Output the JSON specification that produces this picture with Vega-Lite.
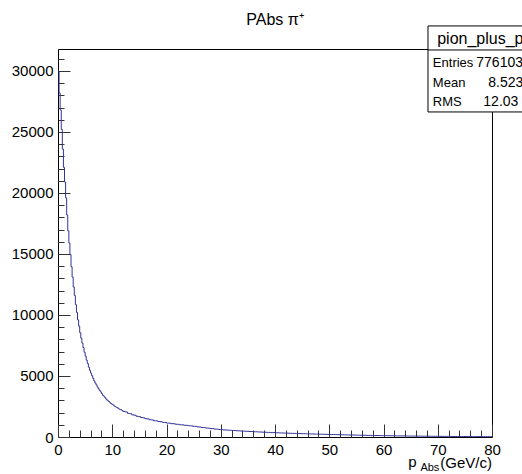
{
  "$schema": "https://vega.github.io/schema/vega-lite/v6.json",
  "width": 434,
  "height": 388,
  "autosize": {"type": "none"},
  "padding": {"left": 58, "top": 49, "right": 30, "bottom": 37},
  "background": "white",
  "config": {"view": {"stroke": "black", "strokeWidth": 1}, "font": "Liberation Sans"},
  "datasets": {
    "hist": [
      {"p":0,"n":30000},{"p":0.2,"n":28200},{"p":0.4,"n":26800},{"p":0.6,"n":25200},{"p":0.8,"n":23600},
      {"p":1.0,"n":22100},{"p":1.2,"n":20900},{"p":1.4,"n":19600},{"p":1.6,"n":18200},{"p":1.8,"n":16900},
      {"p":2.0,"n":15900},{"p":2.2,"n":14950},{"p":2.4,"n":13950},{"p":2.6,"n":13100},{"p":2.8,"n":12300},
      {"p":3.0,"n":11600},{"p":3.2,"n":10850},{"p":3.4,"n":10200},{"p":3.6,"n":9600},{"p":3.8,"n":9100},
      {"p":4.0,"n":8550},{"p":4.2,"n":8100},{"p":4.4,"n":7700},{"p":4.6,"n":7330},{"p":4.8,"n":6950},
      {"p":5.0,"n":6620},{"p":5.2,"n":6300},{"p":5.4,"n":6020},{"p":5.6,"n":5720},{"p":5.8,"n":5470},
      {"p":6.0,"n":5230},{"p":6.2,"n":5020},{"p":6.4,"n":4800},{"p":6.6,"n":4590},{"p":6.8,"n":4420},
      {"p":7.0,"n":4280},{"p":7.2,"n":4100},{"p":7.4,"n":3950},{"p":7.6,"n":3820},{"p":7.8,"n":3700},
      {"p":8.0,"n":3550},{"p":8.2,"n":3420},{"p":8.4,"n":3340},{"p":8.6,"n":3230},{"p":8.8,"n":3110},
      {"p":9.0,"n":3020},{"p":9.2,"n":2950},{"p":9.4,"n":2880},{"p":9.6,"n":2780},{"p":9.8,"n":2710},
      {"p":10.0,"n":2660},{"p":10.2,"n":2590},{"p":10.4,"n":2510},{"p":10.6,"n":2460},{"p":10.8,"n":2420},
      {"p":11.0,"n":2360},{"p":11.2,"n":2290},{"p":11.4,"n":2250},{"p":11.6,"n":2220},{"p":11.8,"n":2160},
      {"p":12.0,"n":2090},{"p":12.4,"n":2050},{"p":12.8,"n":1940},{"p":13.2,"n":1910},{"p":13.6,"n":1815},
      {"p":14.0,"n":1785},{"p":14.4,"n":1700},{"p":14.8,"n":1675},{"p":15.2,"n":1595},{"p":15.6,"n":1575},
      {"p":16.0,"n":1500},{"p":16.4,"n":1485},{"p":16.8,"n":1415},{"p":17.2,"n":1400},{"p":17.6,"n":1335},
      {"p":18.0,"n":1325},{"p":18.4,"n":1265},{"p":18.8,"n":1255},{"p":19.2,"n":1200},{"p":19.6,"n":1190},
      {"p":20.0,"n":1140},{"p":20.4,"n":1135},{"p":20.8,"n":1092},{"p":21.2,"n":1088},{"p":21.6,"n":1045},
      {"p":22.0,"n":1040},{"p":22.4,"n":1000},{"p":22.8,"n":998},{"p":23.2,"n":960},{"p":23.6,"n":955},
      {"p":24.0,"n":918},{"p":24.4,"n":915},{"p":24.8,"n":880},{"p":25.2,"n":868},{"p":25.6,"n":828},
      {"p":26.0,"n":818},{"p":26.4,"n":778},{"p":26.8,"n":770},{"p":27.2,"n":732},{"p":27.6,"n":724},
      {"p":28.0,"n":690},{"p":28.4,"n":680},{"p":28.8,"n":648},{"p":29.2,"n":640},{"p":29.6,"n":610},
      {"p":30.0,"n":603},{"p":30.4,"n":582},{"p":30.8,"n":579},{"p":31.2,"n":556},{"p":31.6,"n":553},
      {"p":32.0,"n":533},{"p":32.4,"n":530},{"p":32.8,"n":511},{"p":33.2,"n":508},{"p":33.6,"n":489},
      {"p":34.0,"n":487},{"p":34.4,"n":469},{"p":34.8,"n":466},{"p":35.2,"n":449},{"p":35.6,"n":447},
      {"p":36.0,"n":430},{"p":36.4,"n":428},{"p":36.8,"n":412},{"p":37.2,"n":410},{"p":37.6,"n":395},
      {"p":38.0,"n":392},{"p":38.4,"n":378},{"p":38.8,"n":375},{"p":39.2,"n":362},{"p":39.6,"n":360},
      {"p":40.0,"n":346},{"p":40.4,"n":345},{"p":40.8,"n":333},{"p":41.2,"n":331},{"p":41.6,"n":320},
      {"p":42.0,"n":318},{"p":42.4,"n":307},{"p":42.8,"n":305},{"p":43.2,"n":294},{"p":43.6,"n":293},
      {"p":44.0,"n":283},{"p":44.4,"n":281},{"p":44.8,"n":271},{"p":45.2,"n":270},{"p":45.6,"n":260},
      {"p":46.0,"n":259},{"p":46.4,"n":250},{"p":46.8,"n":249},{"p":47.2,"n":240},{"p":47.6,"n":239},
      {"p":48.0,"n":231},{"p":48.4,"n":229},{"p":48.8,"n":221},{"p":49.2,"n":220},{"p":49.6,"n":212},
      {"p":50.0,"n":211},{"p":50.4,"n":203},{"p":50.8,"n":201},{"p":51.2,"n":193},{"p":51.6,"n":191},
      {"p":52.0,"n":183},{"p":52.4,"n":181},{"p":52.8,"n":174},{"p":53.2,"n":172},{"p":53.6,"n":165},
      {"p":54.0,"n":164},{"p":54.4,"n":156},{"p":54.8,"n":155},{"p":55.2,"n":149},{"p":55.6,"n":147},
      {"p":56.0,"n":141},{"p":56.4,"n":140},{"p":56.8,"n":134},{"p":57.2,"n":133},{"p":57.6,"n":128},
      {"p":58.0,"n":126},{"p":58.4,"n":121},{"p":58.8,"n":119},{"p":59.2,"n":115},{"p":59.6,"n":113},
      {"p":60.0,"n":109},{"p":60.4,"n":108},{"p":60.8,"n":103},{"p":61.2,"n":102},{"p":61.6,"n":97},
      {"p":62.0,"n":96},{"p":62.4,"n":92},{"p":62.8,"n":91},{"p":63.2,"n":87},{"p":63.6,"n":86},
      {"p":64.0,"n":83},{"p":64.4,"n":81},{"p":64.8,"n":78},{"p":65.2,"n":77},{"p":65.6,"n":74},
      {"p":66.0,"n":73},{"p":66.4,"n":70},{"p":66.8,"n":69},{"p":67.2,"n":66},{"p":67.6,"n":65},
      {"p":68.0,"n":63},{"p":68.4,"n":62},{"p":68.8,"n":59},{"p":69.2,"n":58},{"p":69.6,"n":56},
      {"p":70.0,"n":55},{"p":70.4,"n":53},{"p":70.8,"n":52},{"p":71.2,"n":50},{"p":71.6,"n":49},
      {"p":72.0,"n":47},{"p":72.4,"n":46},{"p":72.8,"n":44},{"p":73.2,"n":43},{"p":73.6,"n":42},
      {"p":74.0,"n":40},{"p":74.4,"n":39},{"p":74.8,"n":38},{"p":75.2,"n":37},{"p":75.6,"n":36},
      {"p":76.0,"n":34},{"p":76.4,"n":33},{"p":76.8,"n":32},{"p":77.2,"n":31},{"p":77.6,"n":30},
      {"p":78.0,"n":29},{"p":78.4,"n":28},{"p":78.8,"n":27},{"p":79.2,"n":27},{"p":79.6,"n":26},
      {"p":80,"n":26}
    ]
  },
  "layer": [
    {
      "data": {"name": "hist"},
      "mark": {"type": "line", "interpolate": "step-after", "color": "#333399", "strokeWidth": 1},
      "encoding": {
        "x": {"field": "p", "type": "quantitative", "scale": {"domain": [0, 80], "nice": false, "zero": false},
              "axis": {"orient": "bottom", "values": [0,10,20,30,40,50,60,70,80], "tickSize": -13, "tickColor": "#333", "domain": false, "grid": false, "title": null, "labelFontSize": 15, "labelColor": "black", "labelPadding": 18, "labelFlush": false, "labelOverlap": false, "labelFont": "Liberation Sans"}},
        "y": {"field": "n", "type": "quantitative", "scale": {"domain": [0, 31800], "nice": false},
              "axis": {"orient": "left", "values": [0,5000,10000,15000,20000,25000,30000], "format": "d", "tickSize": -12, "tickColor": "#333", "domain": false, "grid": false, "title": null, "labelFontSize": 15, "labelColor": "black", "labelPadding": 17, "labelOverlap": false, "labelFont": "Liberation Sans"}}
      }
    },
    {
      "data": {"name": "hist"},
      "mark": {"type": "point", "opacity": 0},
      "encoding": {
        "x": {"field": "p", "type": "quantitative",
              "axis": {"orient": "bottom", "values": [2,4,6,8,12,14,16,18,22,24,26,28,32,34,36,38,42,44,46,48,52,54,56,58,62,64,66,68,72,74,76,78], "tickSize": -7, "tickColor": "#333", "domain": false, "grid": false, "labels": false, "title": null}},
        "y": {"field": "n", "type": "quantitative",
              "axis": {"orient": "left", "values": [1000,2000,3000,4000,6000,7000,8000,9000,11000,12000,13000,14000,16000,17000,18000,19000,21000,22000,23000,24000,26000,27000,28000,29000,31000], "tickSize": -6, "tickColor": "#333", "domain": false, "grid": false, "labels": false, "title": null}}
      }
    },
    {
      "data": {"values": [{}]},
      "mark": {"type": "text", "text": "PAbs π⁺", "align": "center", "baseline": "alphabetic", "fontSize": 16, "font": "Liberation Sans", "color": "black"},
      "encoding": {"x": {"datum": 40, "type": "quantitative", "axis": null}, "y": {"datum": 33770, "type": "quantitative", "axis": null}}
    },
    {
      "data": {"values": [{}]},
      "mark": {"type": "text", "text": "(GeV/c)", "align": "right", "baseline": "alphabetic", "fontSize": 15, "font": "Liberation Sans", "color": "black"},
      "encoding": {"x": {"datum": 80, "type": "quantitative", "axis": null}, "y": {"datum": -2550, "type": "quantitative", "axis": null}}
    },
    {
      "data": {"values": [{}]},
      "mark": {"type": "text", "text": "Abs", "align": "right", "baseline": "alphabetic", "fontSize": 11, "font": "Liberation Sans", "color": "black"},
      "encoding": {"x": {"datum": 70.3, "type": "quantitative", "axis": null}, "y": {"datum": -2800, "type": "quantitative", "axis": null}}
    },
    {
      "data": {"values": [{}]},
      "mark": {"type": "text", "text": "p", "align": "right", "baseline": "alphabetic", "fontSize": 15, "font": "Liberation Sans", "color": "black"},
      "encoding": {"x": {"datum": 66.1, "type": "quantitative", "axis": null}, "y": {"datum": -2420, "type": "quantitative", "axis": null}}
    },
    {
      "data": {"values": [{}]},
      "mark": {"type": "rect", "fill": "white", "stroke": "black", "strokeWidth": 1},
      "encoding": {"x": {"datum": 68.2, "type": "quantitative", "axis": null}, "x2": {"datum": 95}, "y": {"datum": 26640, "type": "quantitative", "axis": null}, "y2": {"datum": 33690}}
    },
    {
      "data": {"values": [{}]},
      "mark": {"type": "rule", "color": "black", "strokeWidth": 1},
      "encoding": {"x": {"datum": 68.2, "type": "quantitative", "axis": null}, "x2": {"datum": 95}, "y": {"datum": 31720, "type": "quantitative", "axis": null}}
    },
    {
      "data": {"values": [{}]},
      "mark": {"type": "text", "text": "pion_plus_pAbs", "align": "left", "baseline": "alphabetic", "fontSize": 16, "font": "Liberation Sans", "color": "black"},
      "encoding": {"x": {"datum": 69.9, "type": "quantitative", "axis": null}, "y": {"datum": 32170, "type": "quantitative", "axis": null}}
    },
    {
      "data": {"values": [{}]},
      "mark": {"type": "text", "text": "Entries", "align": "left", "baseline": "alphabetic", "fontSize": 13, "font": "Liberation Sans", "color": "black"},
      "encoding": {"x": {"datum": 69.1, "type": "quantitative", "axis": null}, "y": {"datum": 30330, "type": "quantitative", "axis": null}}
    },
    {
      "data": {"values": [{}]},
      "mark": {"type": "text", "text": "Mean", "align": "left", "baseline": "alphabetic", "fontSize": 13, "font": "Liberation Sans", "color": "black"},
      "encoding": {"x": {"datum": 69.1, "type": "quantitative", "axis": null}, "y": {"datum": 28690, "type": "quantitative", "axis": null}}
    },
    {
      "data": {"values": [{}]},
      "mark": {"type": "text", "text": "RMS", "align": "left", "baseline": "alphabetic", "fontSize": 13, "font": "Liberation Sans", "color": "black"},
      "encoding": {"x": {"datum": 69.1, "type": "quantitative", "axis": null}, "y": {"datum": 27130, "type": "quantitative", "axis": null}}
    },
    {
      "data": {"values": [{}]},
      "mark": {"type": "text", "text": "776103", "align": "left", "baseline": "alphabetic", "fontSize": 14, "font": "Liberation Sans", "color": "black"},
      "encoding": {"x": {"datum": 77.1, "type": "quantitative", "axis": null}, "y": {"datum": 30330, "type": "quantitative", "axis": null}}
    },
    {
      "data": {"values": [{}]},
      "mark": {"type": "text", "text": "8.523", "align": "left", "baseline": "alphabetic", "fontSize": 14, "font": "Liberation Sans", "color": "black"},
      "encoding": {"x": {"datum": 79.3, "type": "quantitative", "axis": null}, "y": {"datum": 28690, "type": "quantitative", "axis": null}}
    },
    {
      "data": {"values": [{}]},
      "mark": {"type": "text", "text": "12.03", "align": "left", "baseline": "alphabetic", "fontSize": 14, "font": "Liberation Sans", "color": "black"},
      "encoding": {"x": {"datum": 78.4, "type": "quantitative", "axis": null}, "y": {"datum": 27130, "type": "quantitative", "axis": null}}
    }
  ],
  "resolve": {"axis": {"x": "independent", "y": "independent"}}
}
